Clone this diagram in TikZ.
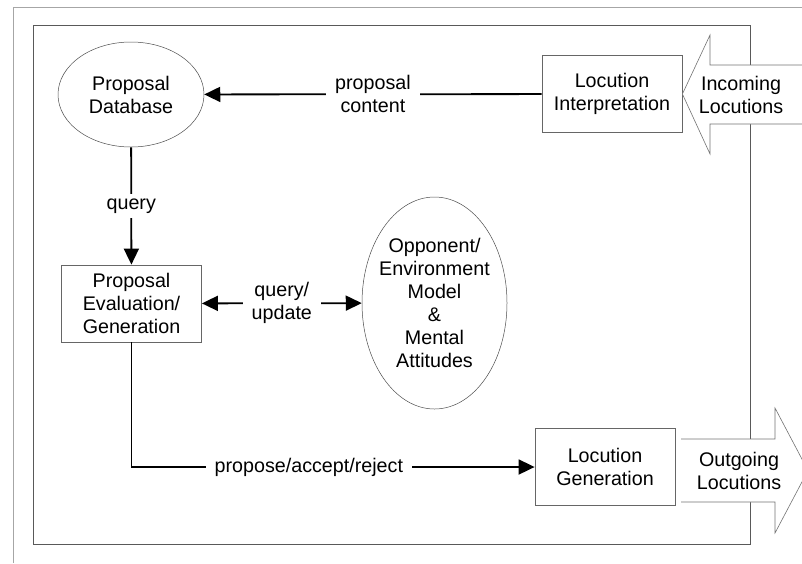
\documentclass[tikz,border=0pt]{standalone}
\usepackage{fontspec}
\setmainfont{Liberation Sans}
\usetikzlibrary{arrows.meta,shapes.geometric,positioning}

\begin{document}
\begin{tikzpicture}[x=1pt,y=-1pt,
    font=\fontsize{19.7}{23}\selectfont,
    box/.style={draw=black!60, line width=0.8pt, align=center, minimum width=140pt, minimum height=77pt, inner sep=0pt},
    store/.style={ellipse, draw=black!70, line width=0.5pt, align=center, inner sep=0pt},
    flow/.style={line width=1.8pt, -{Triangle[length=16pt,width=15pt]}},
    lbl/.style={fill=white, align=center, inner xsep=9pt, inner ysep=5pt},
    bigarrow/.style={draw=black!55, line width=0.6pt, fill=white}]

    \useasboundingbox (0,0) rectangle (802,563);
    \clip (0,0) rectangle (802,563);

    \draw[black!35, line width=1pt] (13,563) -- (13,7) -- (802,7);
    \draw[black!65, line width=1pt] (33,25) rectangle (750,544);

    \node[store, minimum width=146pt, minimum height=105pt] (pdb) at (131,94.5) {Proposal\\Database};
    \node[box] (li) at (612,94) {Locution\\Interpretation};
    \node[box] (peg) at (131.5,303.5) {Proposal\\Evaluation/\\Generation};
    \node[store, minimum width=145pt, minimum height=212pt] (oem) at (434.5,303) {};
    \node[align=center] at (oem) {Opponent/\\Environment\\Model\\\&\\Mental\\Attitudes};
    \node[box] (lg) at (605,467) {Locution\\Generation};

    \draw[flow] (li) -- node[lbl] {proposal\\content} (pdb);
    \draw[flow] (pdb) -- node[lbl] {query} (peg);
    \draw[flow, {Triangle[length=16pt,width=15pt]}-{Triangle[length=16pt,width=15pt]}] (peg) -- node[lbl] {query/\\update} (oem);
    \draw[flow] (peg.south) |- node[lbl, pos=0.72] {propose/accept/reject} (lg.west);

    \draw[bigarrow] (802,65) -- (710,65) -- (710,35) -- (li.east) -- (710,154) -- (710,124) -- (802,124);
    \node[align=center] (inc) at (741,94.5) {Incoming\\Locutions};

    \draw[bigarrow] (681,439) -- (775,439) -- (775,408) -- (808,470.5) -- (775,533) -- (775,502) -- (681,502);
    \node[align=center] (out) at (739,470.5) {Outgoing\\Locutions};
\end{tikzpicture}
\end{document}
